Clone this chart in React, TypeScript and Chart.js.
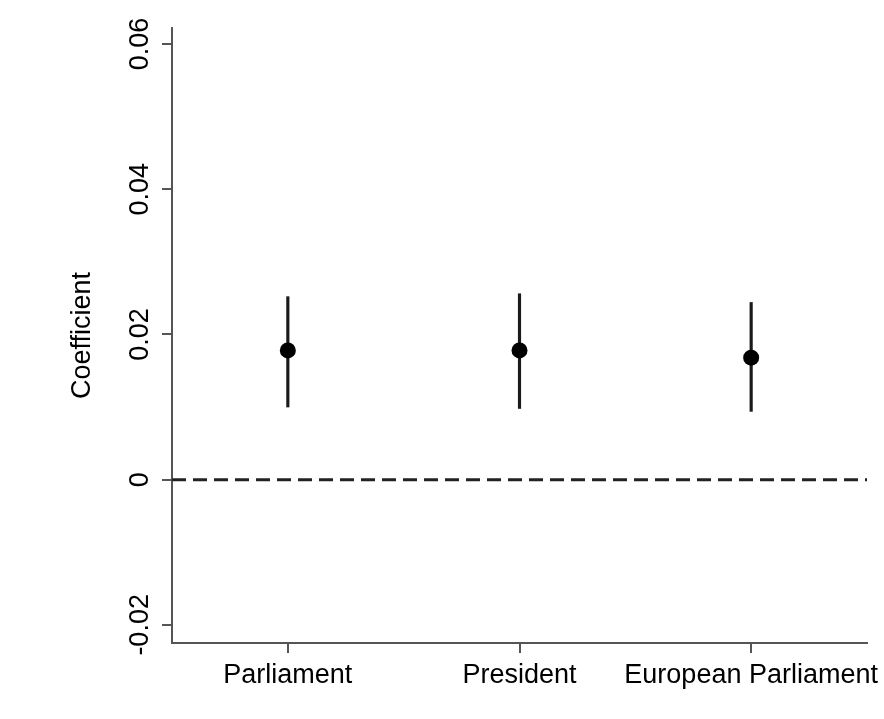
import React, { useEffect, useRef } from 'react';
import { Chart, registerables } from 'chart.js';

Chart.register(...registerables);

const categories = ['Parliament', 'President', 'European Parliament'];
const categoryPositions = [1, 2, 3];
const coefficients = [0.0178, 0.0178, 0.0168];
const lowerBounds = [0.0100, 0.0098, 0.0094];
const upperBounds = [0.0252, 0.0256, 0.0244];
const yTickValues = [-0.02, 0, 0.02, 0.04, 0.06];
const yTickLabels = ['-0.02', '0', '0.02', '0.04', '0.06'];
const referenceX = [0.5, 3.5];
const referenceY = [0, 0];

const FONT_FAMILY = '"Liberation Sans", Arial, Helvetica, sans-serif';
const FONT_SIZE = 27;
const AXIS_COLOR = '#555555';

const yLabelPlugin = {
  id: 'yRotatedLabels',
  afterDraw(chart: any) {
    const s = chart.scales.y;
    const ctx = chart.ctx;
    ctx.save();
    ctx.font = `${FONT_SIZE}px ${FONT_FAMILY}`;
    ctx.fillStyle = '#000000';
    ctx.textAlign = 'center';
    ctx.textBaseline = 'middle';
    yTickValues.forEach((v, i) => {
      const py = s.getPixelForValue(v);
      ctx.save();
      ctx.translate(s.right - 31, py);
      ctx.rotate(-Math.PI / 2);
      ctx.fillText(yTickLabels[i], 0, 0);
      ctx.restore();
    });
    ctx.restore();
  },
};

export default function App() {
  const canvasRef = useRef<HTMLCanvasElement | null>(null);

  useEffect(() => {
    document.body.style.margin = '0';
    const canvas = canvasRef.current;
    if (!canvas) return;

    const chart = new Chart(canvas, {
      type: 'bar',
      data: {
        datasets: [
          {
            type: 'scatter',
            data: categoryPositions.map((x, i) => ({ x, y: coefficients[i] })),
            pointRadius: 8,
            pointHoverRadius: 8,
            pointBackgroundColor: '#000000',
            pointBorderColor: '#000000',
            pointBorderWidth: 0,
            order: 0,
          } as any,
          {
            type: 'bar',
            data: categoryPositions.map((x, i) => ({ x, y: [lowerBounds[i], upperBounds[i]] })),
            backgroundColor: '#1a1a1a',
            borderWidth: 0,
            barThickness: 2.5,
            order: 1,
          } as any,
          {
            type: 'line',
            data: referenceX.map((x, i) => ({ x, y: referenceY[i] })),
            borderColor: '#222222',
            borderWidth: 3,
            borderDash: [14, 7],
            pointRadius: 0,
            fill: false,
            order: 2,
          } as any,
        ],
      },
      options: {
        animation: false,
        responsive: true,
        maintainAspectRatio: false,
        layout: { padding: { left: 0, top: 28, right: 17, bottom: 0 } },
        plugins: {
          legend: { display: false },
          tooltip: { enabled: false },
        },
        scales: {
          x: {
            type: 'linear',
            min: 0.5,
            max: 3.5,
            offset: false,
            afterBuildTicks: (scale: any) => {
              scale.ticks = categoryPositions.map((v) => ({ value: v }));
            },
            afterFit: (scale: any) => {
              scale.height = 76;
              scale.paddingLeft = 0;
              scale.paddingRight = 0;
            },
            ticks: {
              autoSkip: false,
              maxRotation: 0,
              minRotation: 0,
              padding: 6,
              color: '#000000',
              font: { family: FONT_FAMILY, size: FONT_SIZE },
              callback: (value: any) => {
                const idx = categoryPositions.indexOf(Number(value));
                return idx >= 0 ? categories[idx] : '';
              },
            },
            grid: {
              display: true,
              offset: false,
              drawOnChartArea: false,
              drawTicks: true,
              tickLength: 10,
              color: AXIS_COLOR,
              lineWidth: 2,
            },
            border: { display: true, color: AXIS_COLOR, width: 2 },
          },
          y: {
            type: 'linear',
            min: -0.0225,
            max: 0.0622,
            afterBuildTicks: (scale: any) => {
              scale.ticks = yTickValues.map((v) => ({ value: v }));
            },
            afterFit: (scale: any) => {
              scale.width = 172;
              scale.paddingTop = 0;
              scale.paddingBottom = 0;
            },
            ticks: { display: false },
            grid: {
              display: true,
              offset: false,
              drawOnChartArea: false,
              drawTicks: true,
              tickLength: 10,
              color: AXIS_COLOR,
              lineWidth: 2,
            },
            border: { display: true, color: AXIS_COLOR, width: 2 },
            title: {
              display: true,
              text: 'Coefficient',
              color: '#000000',
              font: { family: FONT_FAMILY, size: FONT_SIZE },
              padding: { top: 66, bottom: 0 },
            },
          },
        },
      },
      plugins: [yLabelPlugin],
    });

    return () => {
      chart.destroy();
    };
  }, []);

  return (
    <div style={{ position: 'relative', width: 884, height: 719, background: '#ffffff' }}>
      <canvas ref={canvasRef} />
    </div>
  );
}
